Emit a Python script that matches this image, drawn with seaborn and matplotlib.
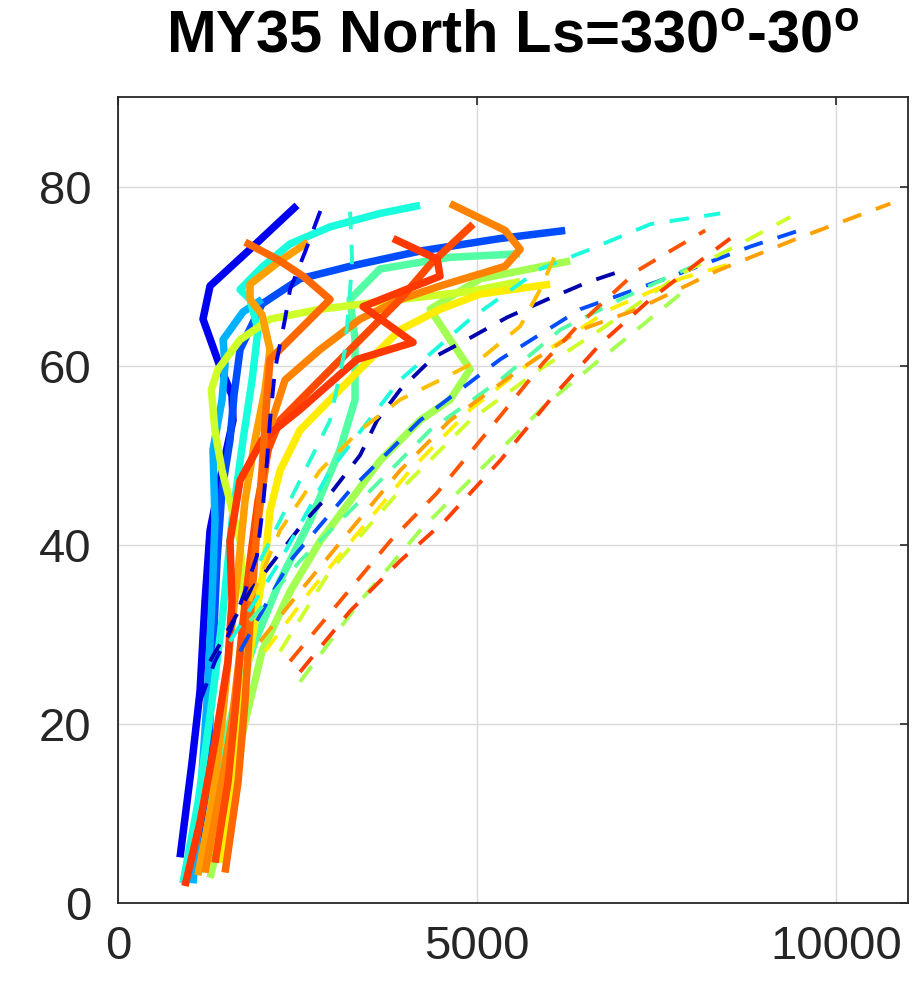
import matplotlib
matplotlib.use("Agg")
import matplotlib.pyplot as plt
import seaborn as sns

sns.set_theme(style="white")
plt.rcParams["font.family"] = ["Liberation Sans", "DejaVu Sans"]
plt.rcParams["mathtext.default"] = "regular"

# ---- solid profiles (thick) ----
s1_x = [864, 1031, 1142, 1212, 1282, 1449, 1602, 1588, 1421, 1184, 1282, 1839, 2493]
s1_y = [5.1, 15.7, 23.6, 33.7, 41.6, 48.3, 53.9, 56.7, 59.9, 65.2, 68.9, 73.0, 77.9]
s2_x = [1142, 1254, 1323, 1379, 1449, 1560, 1616, 1700, 2006, 2535, 3232, 4207, 5321, 6227]
s2_y = [4.3, 15.7, 28.1, 38.2, 46.1, 51.7, 56.7, 61.8, 66.9, 69.7, 71.1, 72.8, 74.2, 75.1]
s3_x = [1045, 1142, 1240, 1309, 1351, 1323, 1449, 1491, 1463, 1741, 2006]
s3_y = [2.2, 11.2, 22.5, 33.7, 42.7, 50.6, 56.2, 60.1, 62.9, 66.0, 67.4]
s4_x = [905, 1114, 1309, 1449, 1588, 1741, 1867, 1950, 1839, 1700, 2006, 2396, 2953, 3650, 4207]
s4_y = [2.2, 11.2, 22.5, 31.5, 42.7, 51.7, 58.4, 64.0, 67.4, 68.5, 71.0, 73.6, 75.5, 77.0, 77.9]
s5_x = [1142, 1351, 1630, 1908, 2257, 2675, 3092, 3301, 3301, 3232, 3650, 4625, 5600]
s5_y = [3.4, 13.5, 22.5, 29.2, 36.0, 42.7, 50.6, 56.2, 62.9, 67.4, 70.8, 72.1, 72.5]
s6_x = [1282, 1532, 1769, 2006, 2396, 2814, 3232, 3650, 4207, 4625, 4903, 4625, 4346, 5043, 6296]
s6_y = [2.8, 11.2, 20.2, 28.1, 34.8, 40.4, 44.9, 49.4, 53.9, 56.2, 59.6, 62.9, 66.3, 69.7, 71.7]
s7_x = [1212, 1491, 1630, 1769, 1700, 1449, 1350, 1300, 1393, 1700, 2117, 2814, 3928, 4903, 5600]
s7_y = [3.4, 12.4, 22.5, 31.5, 40.4, 48.3, 52.8, 57.3, 59.6, 62.9, 65.2, 66.3, 67.4, 68.3, 69.4]
s8_x = [1421, 1588, 1727, 1908, 2048, 2117, 2257, 2535, 2953, 3371, 3928, 4485, 5043, 6018]
s8_y = [4.5, 13.5, 22.5, 31.5, 38.2, 43.8, 48.3, 52.8, 56.2, 59.6, 64.0, 66.3, 68.0, 69.1]
s9_x = [1114, 1309, 1449, 1560, 1672, 1769, 1908, 2048, 2117, 2006, 1839, 1839, 2257, 2647]
s9_y = [3.1, 11.2, 20.2, 29.2, 37.1, 44.9, 51.7, 57.3, 61.8, 65.7, 67.4, 69.1, 71.7, 73.8]
s10_x = [1212, 1421, 1588, 1700, 1811, 1950, 2048, 2145, 2326, 2814, 3371, 3928, 4485, 5391, 5600, 5391, 4625]
s10_y = [3.4, 12.4, 20.2, 28.1, 36.0, 42.7, 48.3, 53.9, 58.4, 61.8, 65.2, 67.4, 68.9, 71.1, 73.0, 75.1, 78.1]
s11_x = [1351, 1532, 1644, 1727, 1839, 1950, 2090, 2257, 2814, 3371, 3928, 4346, 4945]
s11_y = [4.5, 13.5, 22.5, 30.3, 38.2, 44.9, 50.6, 53.9, 58.4, 62.9, 67.4, 71.3, 75.8]
s12_x = [933, 1142, 1351, 1532, 1588, 1560, 1700, 2006, 2535, 3329, 4109, 3413, 4485, 4444, 3831]
s12_y = [1.9, 9.0, 18.0, 27.0, 33.7, 40.4, 47.2, 51.7, 55.1, 60.7, 62.6, 66.6, 70.0, 71.9, 74.2]
s13_x = [1491, 1672, 1769, 1839, 1922, 2006, 2062, 2117, 2953, 2577, 2215, 1769]
s13_y = [3.4, 13.5, 22.5, 31.5, 40.4, 48.3, 55.1, 60.7, 67.4, 70.0, 71.9, 73.8]
solid_levels = [0.10, 0.20, 0.30, 0.38, 0.45, 0.55, 0.60, 0.66, 0.74, 0.77, 0.83, 0.85, 0.80]

# ---- dashed profiles (thin) ----
d1_x = [1142, 1351, 1560, 1769, 1936, 2020, 2076, 2117, 2187, 2326, 2396, 2605, 2842]
d1_y = [22.5, 27.0, 30.3, 34.8, 38.8, 44.4, 49.4, 53.9, 59.6, 65.2, 68.5, 72.7, 77.8]
d2_x = [1282, 1839, 2577, 2995, 3371, 3608, 3928, 4388, 4903, 5419, 5976, 6533, 7091]
d2_y = [27.0, 34.8, 42.4, 46.1, 50.0, 53.9, 57.3, 60.9, 63.1, 65.4, 67.4, 69.3, 70.8]
d3_x = [1700, 2396, 3232, 4207, 5321, 6436, 7689, 8804, 9640]
d3_y = [28.1, 38.2, 46.1, 53.9, 60.7, 66.3, 69.9, 73.3, 75.5]
d4_x = [1560, 2257, 2953, 3928, 4903, 5878, 6575, 7411, 8386]
d4_y = [29.2, 38.2, 48.3, 58.4, 65.2, 70.8, 73.0, 75.8, 77.0]
d5_x = [1839, 2535, 3371, 4346, 5321, 6157, 6993, 7689, 8247]
d5_y = [31.5, 38.2, 44.9, 52.8, 58.4, 64.0, 67.4, 70.0, 71.9]
d6_x = [2535, 3371, 4207, 5084, 5976, 6714, 7313, 7829]
d6_y = [24.7, 33.7, 41.6, 48.7, 55.8, 60.7, 64.6, 68.0]
d7_x = [2257, 2953, 3928, 4903, 5878, 6714, 7829, 8664, 9361]
d7_y = [28.1, 37.1, 46.1, 53.9, 59.6, 64.0, 70.2, 73.6, 76.6]
d8_x = [2048, 2675, 3371, 4067, 4903, 5878, 6854, 7829, 8664]
d8_y = [28.1, 34.8, 41.6, 48.3, 55.1, 61.2, 66.3, 69.7, 71.7]
d9_x = [1978, 2535, 3232, 3928, 4625, 5600, 6436, 7230, 8344, 9459, 10754]
d9_y = [29.2, 34.8, 41.6, 48.3, 53.9, 59.6, 64.0, 66.3, 70.6, 74.2, 78.1]
d10_x = [2396, 3092, 3789, 4444, 5224, 5920, 6394, 7230, 7731, 8177]
d10_y = [27.0, 33.7, 40.4, 45.8, 53.4, 60.3, 64.4, 70.6, 73.0, 75.1]
d11_x = [1839, 2257, 2814, 3371, 3928, 4485, 5043, 5600, 5878, 6157]
d11_y = [33.7, 41.6, 48.3, 52.8, 56.2, 58.4, 60.7, 64.4, 68.5, 73.6]
d12_x = [1978, 2535, 2953, 3162, 3232, 3260, 3232]
d12_y = [38.2, 47.2, 53.9, 61.8, 68.5, 71.9, 77.2]
d13_x = [2535, 3232, 3928, 4555, 5321, 6018, 6714, 7411, 8107, 8525]
d13_y = [25.8, 32.6, 38.2, 42.7, 49.4, 56.2, 62.4, 67.4, 71.7, 74.2]
dashed_levels = [0.08, 0.04, 0.20, 0.38, 0.45, 0.55, 0.60, 0.66, 0.74, 0.82, 0.71, 0.40, 0.84]

x_ticks = [0, 5000, 10000]
y_ticks = [0, 20, 40, 60, 80]
title_text = "MY35 North Ls=330$^o$-30$^o$"

solid_lines = [(s1_x, s1_y), (s2_x, s2_y), (s3_x, s3_y), (s4_x, s4_y), (s5_x, s5_y),
               (s6_x, s6_y), (s7_x, s7_y), (s8_x, s8_y), (s9_x, s9_y), (s10_x, s10_y),
               (s11_x, s11_y), (s12_x, s12_y), (s13_x, s13_y)]
dashed_lines = [(d1_x, d1_y), (d2_x, d2_y), (d3_x, d3_y), (d4_x, d4_y), (d5_x, d5_y),
                (d6_x, d6_y), (d7_x, d7_y), (d8_x, d8_y), (d9_x, d9_y), (d10_x, d10_y),
                (d11_x, d11_y), (d12_x, d12_y), (d13_x, d13_y)]

cmap = matplotlib.colormaps["jet"]

fig = plt.figure(figsize=(9.18, 9.93), dpi=100)
ax = fig.add_axes([0.1285, 0.0906, 0.8606, 0.8117])

for (xs, ys), lev in zip(solid_lines, solid_levels):
    sns.lineplot(x=xs, y=ys, sort=False, estimator=None, ax=ax, color=cmap(lev),
                 lw=5.4, solid_capstyle="butt", solid_joinstyle="round")

for (xs, ys), lev in zip(dashed_lines, dashed_levels):
    sns.lineplot(x=xs, y=ys, sort=False, estimator=None, ax=ax, color=cmap(lev),
                 lw=2.8, linestyle=(0, (5, 4)), dash_capstyle="butt")

ax.set_xlim(0, 11000)
ax.set_ylim(0, 90)
ax.set_xticks(x_ticks)
ax.set_yticks(y_ticks)
ax.set_xticklabels([str(v) for v in x_ticks])
ax.set_yticklabels([str(v) for v in y_ticks])
ax.grid(True, color="#dadada", lw=1.0)
ax.set_axisbelow(True)
ax.tick_params(direction="in", length=6, width=1.2, colors="#262626",
               labelsize=34, top=True, right=True, labelcolor="#262626")
ax.tick_params(axis="x", pad=16)
ax.tick_params(axis="y", pad=19)
for sp in ax.spines.values():
    sp.set_color("#262626")
    sp.set_linewidth(1.3)
    sp.set_visible(True)

fig.text(0.558, 0.962, title_text, ha="center", va="center", fontsize=43,
         fontweight="bold", color="black")

fig.savefig("out.png", dpi=100, facecolor="white")
